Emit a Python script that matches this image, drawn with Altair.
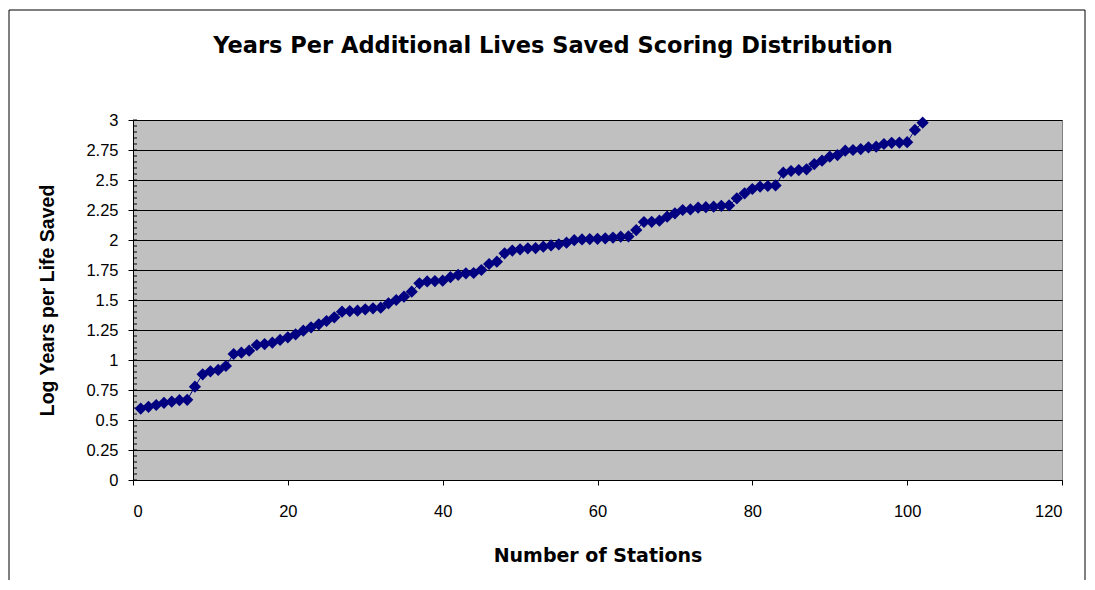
import altair as alt
import pandas as pd

# ---- data ----
stations = list(range(1, 103))
log_years = [
    0.595, 0.610, 0.625, 0.643, 0.653, 0.665, 0.668, 0.778, 0.881, 0.906,
    0.917, 0.950, 1.050, 1.061, 1.078, 1.125, 1.133, 1.144, 1.167, 1.189,
    1.214, 1.244, 1.272, 1.297, 1.325, 1.356, 1.403, 1.408, 1.411, 1.422,
    1.431, 1.436, 1.472, 1.500, 1.528, 1.569, 1.639, 1.655, 1.658, 1.661,
    1.690, 1.710, 1.722, 1.725, 1.750, 1.800, 1.819, 1.889, 1.912, 1.922,
    1.931, 1.933, 1.944, 1.955, 1.964, 1.978, 1.998, 2.005, 2.008, 2.010,
    2.014, 2.020, 2.028, 2.030, 2.083, 2.150, 2.152, 2.161, 2.194, 2.222,
    2.250, 2.255, 2.270, 2.273, 2.278, 2.285, 2.288, 2.347, 2.389, 2.425,
    2.445, 2.450, 2.455, 2.561, 2.575, 2.583, 2.589, 2.633, 2.661, 2.694,
    2.708, 2.744, 2.750, 2.758, 2.772, 2.778, 2.800, 2.810, 2.812, 2.815,
    2.917, 2.978,
]
x_ticks = [0, 20, 40, 60, 80, 100, 120]
y_ticks = [0, 0.25, 0.5, 0.75, 1, 1.25, 1.5, 1.75, 2, 2.25, 2.5, 2.75, 3]
minor_ticks = [round(i * 0.05, 2) for i in range(61)]

title_text = "Years Per Additional Lives Saved Scoring Distribution"
x_title = "Number of Stations"
y_title = "Log Years per Life Saved"

df = pd.DataFrame({"station": stations, "value": log_years})
minor_df = pd.DataFrame({"value": minor_ticks})
one_df = pd.DataFrame({"a": [0]})

FONT = "Liberation Sans"
WIDE = "DejaVu Sans"
NAVY = "#000080"

x_scale = alt.Scale(domain=[0, 120], nice=False, zero=True)
y_scale = alt.Scale(domain=[0, 3], nice=False)

x_axis = alt.Axis(
    values=x_ticks, title=x_title, grid=False,
    tickSize=5, tickColor="black", domainColor="black",
    labelFont=FONT, labelFontSize=16.5, labelColor="black", labelPadding=18,
    titleFont=WIDE, titleFontSize=19, titleFontWeight="bold", titleColor="black",
    titleY=81, titleBaseline="alphabetic",
)
y_axis = alt.Axis(
    values=y_ticks, format=".2~f", title=y_title,
    grid=True, gridColor="black", gridOpacity=1, gridWidth=1,
    tickSize=5, tickColor="black", domainColor="black",
    labelFont=FONT, labelFontSize=16.5, labelColor="black", labelPadding=10,
    titleFont=FONT, titleFontSize=19.5, titleFontWeight="bold", titleColor="black",
    titleAngle=270, titleX=-86, titleY=180, titleAlign="center",
    titleBaseline="middle",
)

x_enc = alt.X("station:Q", scale=x_scale, axis=x_axis)
y_enc = alt.Y("value:Q", scale=y_scale, axis=y_axis)

minor = alt.Chart(minor_df).mark_rule(color="black", strokeWidth=1).encode(
    y=y_enc, x=alt.value(0), x2=alt.value(4)
)
line = alt.Chart(df).mark_line(color=NAVY, strokeWidth=1).encode(x=x_enc, y=y_enc)
points = alt.Chart(df).mark_point(
    shape="diamond", filled=True, size=150, color=NAVY, opacity=1
).encode(x=x_enc, y=y_enc)

frame = alt.Chart(one_df).mark_rect(
    fillOpacity=0, stroke="black", strokeWidth=1
).encode(
    x=alt.value(-124), x2=alt.value(952), y=alt.value(-110), y2=alt.value(540)
)

title = alt.Chart(one_df).mark_text(
    font=WIDE, fontSize=22.5, fontWeight="bold", color="black",
    align="center", baseline="alphabetic",
).encode(text=alt.value(title_text), x=alt.value(420), y=alt.value(-67))

chart = alt.layer(frame, minor, line, points, title).properties(
    width=929,
    height=360,
    autosize=alt.AutoSizeParams(type="none"),
    padding={"left": 125, "top": 112, "right": 25, "bottom": 100},
).configure(
    background="white"
).configure_view(
    fill="#C0C0C0", stroke="#808080", strokeWidth=1
)

chart.save("out.html", embed_options={"renderer": "svg", "actions": False})
